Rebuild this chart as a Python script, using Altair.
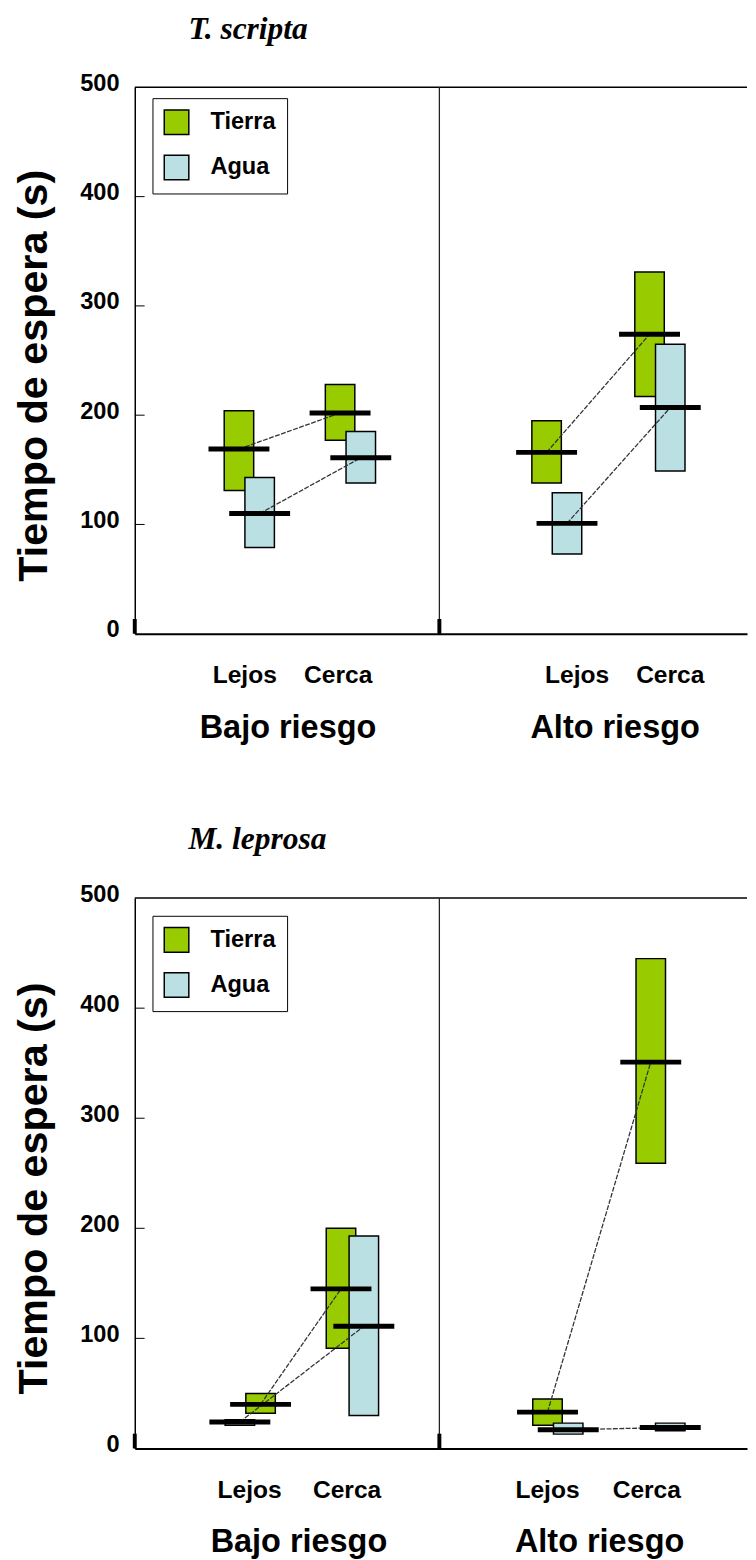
import altair as alt
import pandas as pd

# ---------------- data ----------------
RISK = ["Bajo riesgo", "Alto riesgo"]
COND = ["Lejos", "Cerca"]
HAB = ["Tierra", "Agua"]

# order: risk -> cond -> habitat
TS_LOW = [131, 79, 177, 138, 138, 73, 217, 149]
TS_HIGH = [204, 143, 228, 185, 195, 129, 331, 265]
TS_MEAN = [169, 110, 202, 161, 166, 101, 274, 207]

ML_LOW = [32, 21, 91, 30, 21, 13, 259, 16]
ML_HIGH = [50, 26, 200, 193, 45, 23, 445, 23]
ML_MEAN = [40, 24, 145, 111, 33, 17, 351, 19]

Y_TICKS = [0, 100, 200, 300, 400, 500]
INNER_TICKS = [100, 200, 300, 400]

# ---------------- layout (x units: one risk group = 1) ----------------
TS_XC = [0.342, 0.410, 0.674, 0.742, 1.352, 1.419, 1.690, 1.758]
ML_XC = [0.413, 0.345, 0.677, 0.752, 1.355, 1.423, 1.694, 1.758]
TS_LBL_X = [0.361, 0.668, 1.452, 1.758]
ML_LBL_X = [0.377, 0.697, 1.355, 1.681]
TS_GRP_X = [0.503, 1.577]
ML_GRP_X = [0.539, 1.526]
TITLE_X = 0.176
XMAX = 2.01
PLOT_W = 623
BOX_HALF = 15 / 310
MEAN_HALF = 31 / 310

COLORS = ["#99CC00", "#BBE0E3"]
SANS = "Liberation Sans, Arial, Helvetica, sans-serif"
SERIF = "Liberation Serif, Times New Roman, serif"

Y_TITLE = "Tiempo de espera (s)"

X_AXIS = alt.Axis(labels=False, ticks=False, grid=False, title=None,
                  domainColor="black", domainWidth=2)


def y_axis(h):
    return alt.Axis(values=Y_TICKS, grid=False, ticks=False, tickSize=0,
                    labelPadding=16, labelFont=SANS, labelFontSize=24,
                    labelFontWeight="bold", labelColor="black",
                    labelFlush=False, labelOffset=-4,
                    domainColor="black", domainWidth=1.5,
                    title=Y_TITLE, titleFont=SANS,
                    titleFontSize=42, titleFontWeight="bold",
                    titleColor="black", titleAngle=270, titleX=-90,
                    titleY=round(h * 0.527), titleAlign="center",
                    titleBaseline="alphabetic")


def build_df(low, high, mean, xc):
    rows = []
    i = 0
    for r in RISK:
        for c in COND:
            for h in HAB:
                rows.append(dict(risk=r, cond=c, hab=h, low=low[i], high=high[i],
                                 mean=mean[i], xc=xc[i],
                                 x1=xc[i] - BOX_HALF, x2=xc[i] + BOX_HALF,
                                 m1=xc[i] - MEAN_HALF, m2=xc[i] + MEAN_HALF,
                                 series=r + "-" + h))
                i += 1
    return pd.DataFrame(rows)


def panel(title, low, high, mean, xc, lbl_x, grp_x, legend_y, lbl_y, grp_y,
          title_y, h):
    df = build_df(low, high, mean, xc)
    xs = alt.Scale(domain=[0, XMAX], nice=False, zero=False)
    ys = alt.Scale(domain=[0, 500], nice=False)
    yax = y_axis(h)

    def X(f):
        return alt.X(f, scale=xs, axis=X_AXIS, title=None)

    def Y(f):
        return alt.Y(f, scale=ys, axis=yax, title=Y_TITLE)

    boxes = alt.Chart(df).mark_rect(stroke="black", strokeWidth=1.5).encode(
        x=X("x1:Q"), x2="x2:Q",
        y=Y("low:Q"), y2="high:Q",
        fill=alt.Fill("hab:N", scale=alt.Scale(domain=HAB, range=COLORS),
                      legend=alt.Legend(orient="none", legendX=18, legendY=legend_y,
                                        title=None, strokeColor="black",
                                        fillColor="white", padding=11,
                                        symbolType="square", symbolSize=625,
                                        symbolStrokeColor="black",
                                        symbolStrokeWidth=1.5, labelFont=SANS,
                                        labelFontSize=24, labelFontWeight="bold",
                                        labelColor="black", labelOffset=21,
                                        rowPadding=15)),
    )

    links = alt.Chart(df).mark_line(color="#333333", strokeWidth=1.3,
                                    strokeDash=[5, 1.5]).encode(
        x=X("xc:Q"), y=Y("mean:Q"), detail="series:N", order="xc:Q")

    means = alt.Chart(df).mark_rule(color="black", strokeWidth=5).encode(
        x=X("m1:Q"), x2="m2:Q", y=Y("mean:Q"))

    frame_df = pd.DataFrame({"x0": [0.0], "x1": [XMAX], "top": [500], "bot": [0], "div": [1.0]})
    top_line = alt.Chart(frame_df).mark_rule(color="black", strokeWidth=1.5).encode(
        x=X("x0:Q"), x2="x1:Q", y=Y("top:Q"))
    divider = alt.Chart(frame_df).mark_rule(color="#222222", strokeWidth=1.3).encode(
        x=X("div:Q"), y=Y("bot:Q"), y2="top:Q")

    tick_df = pd.DataFrame({"v": INNER_TICKS})
    inner = alt.Chart(tick_df).mark_rule(color="black", strokeWidth=1).encode(
        x=alt.value(0), x2=alt.value(10), y=Y("v:Q"))

    bt_df = pd.DataFrame({"g": [0.0, 1.0]})
    bticks = alt.Chart(bt_df).mark_rule(color="black", strokeWidth=4).encode(
        x=X("g:Q"), y=alt.value(h), y2=alt.value(h - 15))

    lbl_df = pd.DataFrame({"t": COND + COND, "x": lbl_x})
    lbls = alt.Chart(lbl_df).mark_text(font=SANS, fontSize=25, fontWeight="bold",
                                       color="black", baseline="alphabetic",
                                       align="center").encode(
        x=X("x:Q"), y=alt.value(lbl_y), text="t:N")

    grp_df = pd.DataFrame({"t": RISK, "x": grp_x})
    grps = alt.Chart(grp_df).mark_text(font=SANS, fontSize=33, fontWeight="bold",
                                       color="black", baseline="alphabetic",
                                       align="center").encode(
        x=X("x:Q"), y=alt.value(grp_y), text="t:N")

    ttl_df = pd.DataFrame({"t": [title], "x": [TITLE_X]})
    ttl = alt.Chart(ttl_df).mark_text(font=SERIF, fontSize=32, fontStyle="italic",
                                      fontWeight="bold", color="black",
                                      baseline="alphabetic", align="left").encode(
        x=X("x:Q"), y=alt.value(title_y), text="t:N")

    return alt.layer(boxes, links, means, top_line, divider, inner, bticks,
                     lbls, grps, ttl).properties(width=PLOT_W, height=h)


p1 = panel("T. scripta", TS_LOW, TS_HIGH, TS_MEAN, TS_XC, TS_LBL_X, TS_GRP_X,
           11, 606, 662, -49, 556)
p2 = panel("M. leprosa", ML_LOW, ML_HIGH, ML_MEAN, ML_XC, ML_LBL_X, ML_GRP_X,
           18, 610, 665, -50, 560)

chart = alt.vconcat(p1, p2, spacing=269, bounds="flush").properties(
    padding={"left": 5, "top": -8, "right": 0, "bottom": 0},
).resolve_legend(fill="independent").configure_view(stroke=None)

chart.save("out.html", embed_options={"renderer": "svg", "actions": False})
